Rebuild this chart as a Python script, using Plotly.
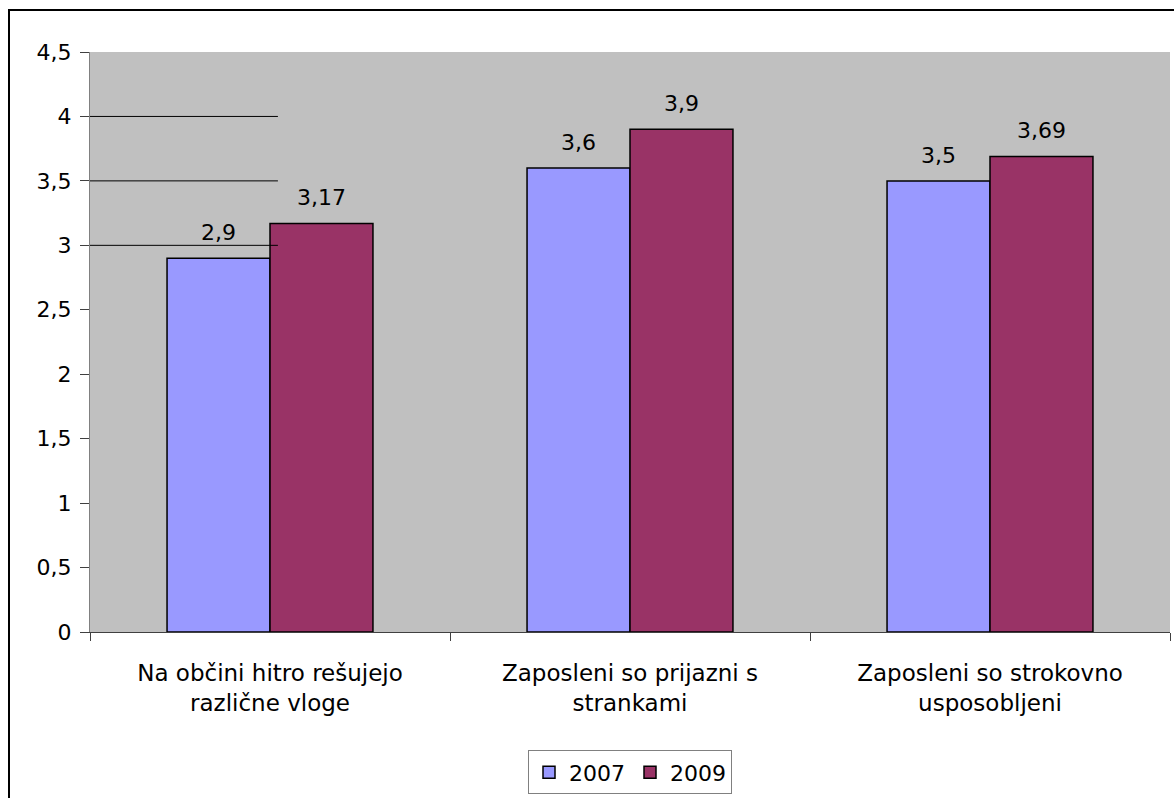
import plotly.graph_objects as go

categories = ["Na občini hitro rešujejo<br>različne vloge",
              "Zaposleni so prijazni s<br>strankami",
              "Zaposleni so strokovno<br>usposobljeni"]
series_names = ["2007", "2009"]
values_2007 = [2.9, 3.6, 3.5]
values_2009 = [3.17, 3.9, 3.69]
y_ticks = [0, 0.5, 1, 1.5, 2, 2.5, 3, 3.5, 4, 4.5]
partial_grid = [3, 3.5, 4]

colors = ["#9999FF", "#993366"]
font_family = "DejaVu Sans, Arial, sans-serif"

def fmt(v):
    return ("%g" % v).replace(".", ",")

fig = go.Figure()
for name, vals, col in zip(series_names, [values_2007, values_2009], colors):
    fig.add_trace(go.Bar(
        x=categories, y=vals, name=name,
        marker=dict(color=col, line=dict(color="black", width=1.5)),
    ))

# data labels, placed above each bar of the group
bar_px = 103
annotations = []
for i, vals in enumerate([values_2007, values_2009]):
    shift = (-0.5 if i == 0 else 0.5) * bar_px
    for c, v in zip(categories, vals):
        annotations.append(dict(x=c, y=v, text=fmt(v), showarrow=False, xref="x", yref="y",
                                xshift=shift, yanchor="bottom", yshift=11,
                                font=dict(size=22, color="black", family=font_family)))

shapes = []
for g in partial_grid:
    shapes.append(dict(type="line", xref="paper", yref="y", x0=0, x1=0.174, y0=g, y1=g,
                       line=dict(color="black", width=1), layer="above"))
# outer chart border
shapes.append(dict(type="rect", xref="paper", yref="paper", x0=-0.075, x1=1.02, y0=-0.3, y1=1.0722,
                   line=dict(color="black", width=2), layer="below"))

fig.update_layout(
    width=1174, height=798,
    margin=dict(l=90, r=4, t=52, b=164),
    paper_bgcolor="white", plot_bgcolor="#C0C0C0",
    separators=", ",
    barmode="group", bargap=0.428, bargroupgap=0,
    font=dict(family=font_family, size=22, color="black"),
    showlegend=True,
    legend=dict(orientation="h", x=0.5, xanchor="center", y=-0.242, yanchor="middle",
                bordercolor="#808080", borderwidth=1, bgcolor="white",
                font=dict(size=22, family=font_family), tracegroupgap=0),
    shapes=shapes,
    annotations=annotations,
    xaxis=dict(showgrid=False, showline=True, linecolor="#404040", linewidth=1,
               ticks="outside", ticklen=8, tickcolor="#404040", tickson="boundaries",
               tickfont=dict(size=23, family=font_family), ticklabelstandoff=20),
    yaxis=dict(range=[0, 4.5], tickvals=y_ticks, ticktext=[fmt(v) for v in y_ticks],
               showgrid=False, showline=True, linecolor="#808080", linewidth=1,
               ticks="outside", ticklen=9, tickcolor="#404040", ticklabelstandoff=4,
               tickfont=dict(size=22, family=font_family), zeroline=False),
)

fig.write_html("out.html", config={"displayModeBar": False},
               post_script="document.body.style.margin='0';document.body.style.overflow='hidden';")
